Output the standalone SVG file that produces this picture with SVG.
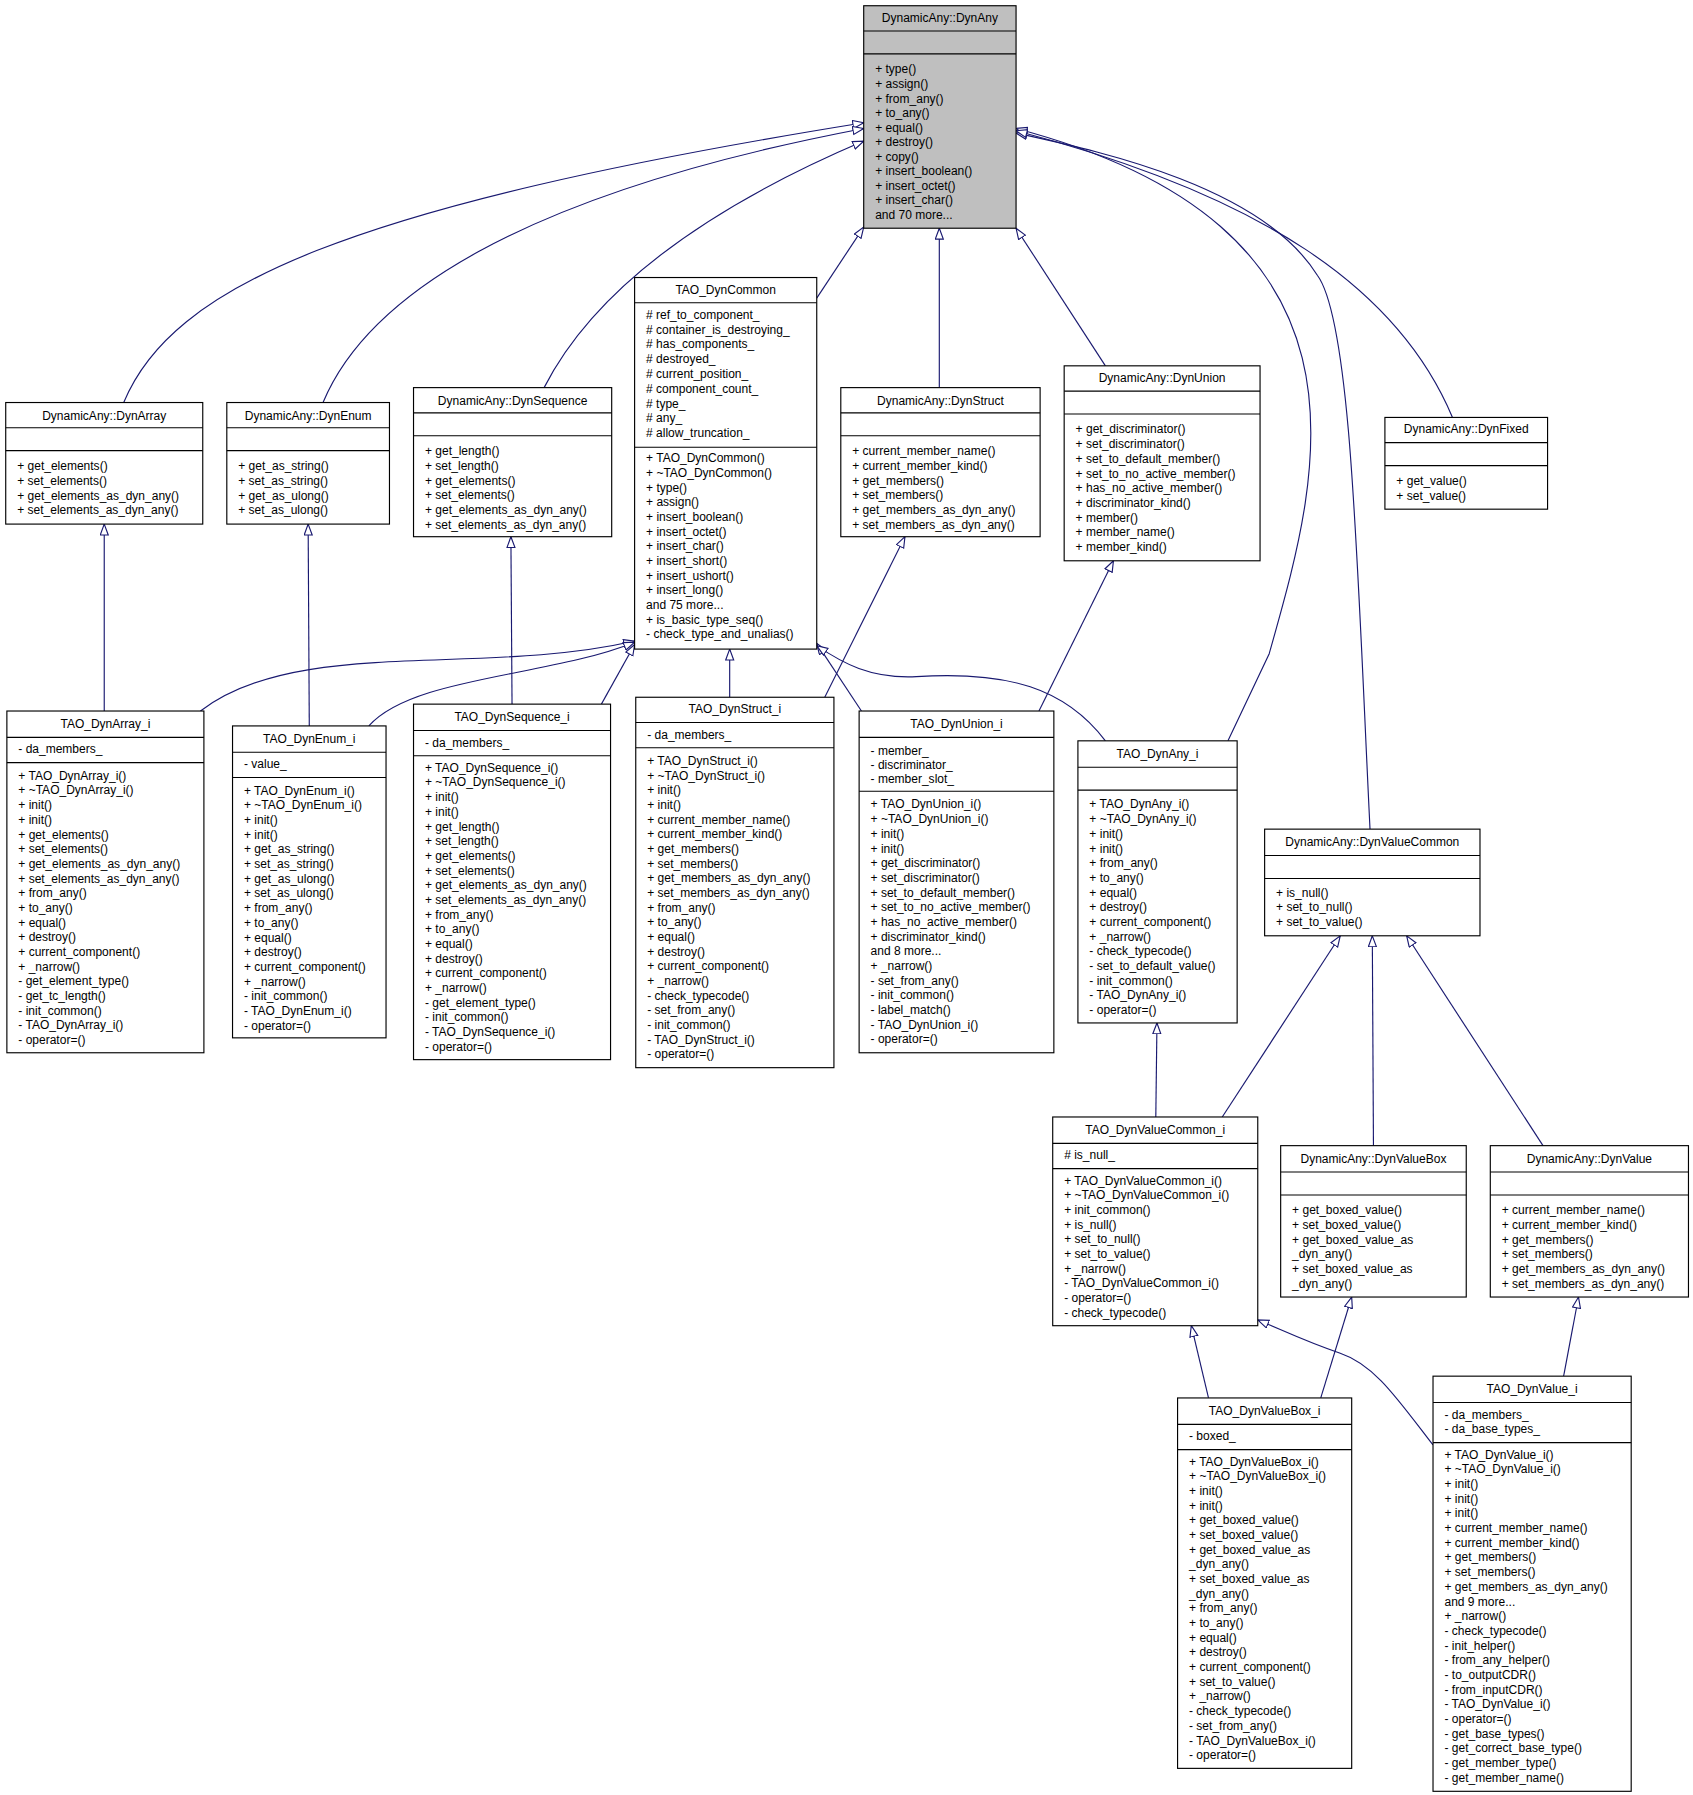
<svg xmlns="http://www.w3.org/2000/svg" width="1693" height="1795" viewBox="0 0 1693 1795">
<style>
.b{fill:#fff;stroke:#000;stroke-width:1}
.g{fill:#bfbfbf;stroke:#000;stroke-width:1}
.s{stroke:#000;stroke-width:1}
text{font-family:"Liberation Sans",Arial,sans-serif;font-size:10.5px;fill:#000}
.t{text-anchor:middle}
.e{fill:none;stroke:#191970;stroke-width:1;marker-end:url(#a)}
</style>
<defs><marker id="a" markerUnits="userSpaceOnUse" markerWidth="12" markerHeight="10" refX="10" refY="4" orient="auto"><path d="M0.5,0.5 L10,4 L0.5,7.5 z" fill="#fff" stroke="#191970"/></marker></defs>
<rect width="1693" height="1795" fill="#fff"/>
<g transform="scale(1.1455,1.1468)">
<g id="edges">
<path class="e" d="M108,351 C150,250 300,180 754,107"/>
<path class="e" d="M282,351 C320,260 450,170 754,112"/>
<path class="e" d="M475,338 C520,250 620,180 754,123"/>
<path class="e" d="M713,260 L754,198"/>
<path class="e" d="M820,338 L820,199"/>
<path class="e" d="M965,319 L887,199"/>
<path class="e" d="M1072,646 L1108,570 C1150,420 1220,200 887,112"/>
<path class="e" d="M1196,723 C1185,500 1180,280 1150,240 C1100,160 950,130 887,116"/>
<path class="e" d="M1268,364 C1220,250 1100,170 887,114"/>
<path class="e" d="M175,620 C260,555 420,590 554,559"/>
<path class="e" d="M322,633 C360,590 480,590 554,560"/>
<path class="e" d="M525,614 L554,562"/>
<path class="e" d="M637,608 L637,566"/>
<path class="e" d="M752,620 L713,561"/>
<path class="e" d="M965,646 C930,600 880,585 800,590 C760,592 735,578 713,563"/>
<path class="e" d="M91,620 L91,457"/>
<path class="e" d="M270,633 L269,457"/>
<path class="e" d="M447,614 L446,468"/>
<path class="e" d="M720,608 L790,468"/>
<path class="e" d="M907,620 L972,489"/>
<path class="e" d="M1009,974 L1010,892"/>
<path class="e" d="M1067,974 L1170,816"/>
<path class="e" d="M1199,999 L1198,816"/>
<path class="e" d="M1347,999 L1228,816"/>
<path class="e" d="M1055,1219 L1040,1156"/>
<path class="e" d="M1153,1219 L1180,1131"/>
<path class="e" d="M1251,1260 C1220,1220 1200,1190 1170,1180 C1140,1170 1120,1160 1098,1151"/>
<path class="e" d="M1365,1200 L1378,1131"/>
</g>

<g id="DynAny"><rect class="g" x="754" y="5" width="133" height="194"/><line class="s" x1="754" y1="27" x2="887" y2="27"/><line class="s" x1="754" y1="47" x2="887" y2="47"/>
<text class="t" x="820.5" y="19">DynamicAny::DynAny</text>
<text x="764" y="64"><tspan x="764">+ type()</tspan><tspan x="764" dy="12.7">+ assign()</tspan><tspan x="764" dy="12.7">+ from_any()</tspan><tspan x="764" dy="12.7">+ to_any()</tspan><tspan x="764" dy="12.7">+ equal()</tspan><tspan x="764" dy="12.7">+ destroy()</tspan><tspan x="764" dy="12.7">+ copy()</tspan><tspan x="764" dy="12.7">+ insert_boolean()</tspan><tspan x="764" dy="12.7">+ insert_octet()</tspan><tspan x="764" dy="12.7">+ insert_char()</tspan><tspan x="764" dy="12.7">and 70 more...</tspan></text></g>

<g id="TAO_DynCommon"><rect class="b" x="554" y="242" width="159" height="324"/><line class="s" x1="554" y1="264" x2="713" y2="264"/><line class="s" x1="554" y1="390" x2="713" y2="390"/>
<text class="t" x="633.5" y="256">TAO_DynCommon</text>
<text x="564" y="278"><tspan x="564"># ref_to_component_</tspan><tspan x="564" dy="12.9"># container_is_destroying_</tspan><tspan x="564" dy="12.9"># has_components_</tspan><tspan x="564" dy="12.9"># destroyed_</tspan><tspan x="564" dy="12.9"># current_position_</tspan><tspan x="564" dy="12.9"># component_count_</tspan><tspan x="564" dy="12.9"># type_</tspan><tspan x="564" dy="12.9"># any_</tspan><tspan x="564" dy="12.9"># allow_truncation_</tspan></text>
<text x="564" y="403"><tspan x="564">+ TAO_DynCommon()</tspan><tspan x="564" dy="12.8">+ ~TAO_DynCommon()</tspan><tspan x="564" dy="12.8">+ type()</tspan><tspan x="564" dy="12.8">+ assign()</tspan><tspan x="564" dy="12.8">+ insert_boolean()</tspan><tspan x="564" dy="12.8">+ insert_octet()</tspan><tspan x="564" dy="12.8">+ insert_char()</tspan><tspan x="564" dy="12.8">+ insert_short()</tspan><tspan x="564" dy="12.8">+ insert_ushort()</tspan><tspan x="564" dy="12.8">+ insert_long()</tspan><tspan x="564" dy="12.8">and 75 more...</tspan><tspan x="564" dy="12.8">+ is_basic_type_seq()</tspan><tspan x="564" dy="12.8">- check_type_and_unalias()</tspan></text></g>

<g id="DynArray"><rect class="b" x="5" y="351" width="172" height="106"/><line class="s" x1="5" y1="373" x2="177" y2="373"/><line class="s" x1="5" y1="393" x2="177" y2="393"/>
<text class="t" x="91" y="366">DynamicAny::DynArray</text>
<text x="15" y="410"><tspan x="15">+ get_elements()</tspan><tspan x="15" dy="12.8">+ set_elements()</tspan><tspan x="15" dy="12.8">+ get_elements_as_dyn_any()</tspan><tspan x="15" dy="12.8">+ set_elements_as_dyn_any()</tspan></text></g>

<g id="DynEnum"><rect class="b" x="198" y="351" width="142" height="106"/><line class="s" x1="198" y1="373" x2="340" y2="373"/><line class="s" x1="198" y1="393" x2="340" y2="393"/>
<text class="t" x="269" y="366">DynamicAny::DynEnum</text>
<text x="208" y="410"><tspan x="208">+ get_as_string()</tspan><tspan x="208" dy="12.8">+ set_as_string()</tspan><tspan x="208" dy="12.8">+ get_as_ulong()</tspan><tspan x="208" dy="12.8">+ set_as_ulong()</tspan></text></g>

<g id="DynSequence"><rect class="b" x="361" y="338" width="173" height="130"/><line class="s" x1="361" y1="360" x2="534" y2="360"/><line class="s" x1="361" y1="380" x2="534" y2="380"/>
<text class="t" x="447.5" y="353">DynamicAny::DynSequence</text>
<text x="371" y="397"><tspan x="371">+ get_length()</tspan><tspan x="371" dy="12.8">+ set_length()</tspan><tspan x="371" dy="12.8">+ get_elements()</tspan><tspan x="371" dy="12.8">+ set_elements()</tspan><tspan x="371" dy="12.8">+ get_elements_as_dyn_any()</tspan><tspan x="371" dy="12.8">+ set_elements_as_dyn_any()</tspan></text></g>

<g id="DynStruct"><rect class="b" x="734" y="338" width="174" height="130"/><line class="s" x1="734" y1="360" x2="908" y2="360"/><line class="s" x1="734" y1="380" x2="908" y2="380"/>
<text class="t" x="821" y="353">DynamicAny::DynStruct</text>
<text x="744" y="397"><tspan x="744">+ current_member_name()</tspan><tspan x="744" dy="12.8">+ current_member_kind()</tspan><tspan x="744" dy="12.8">+ get_members()</tspan><tspan x="744" dy="12.8">+ set_members()</tspan><tspan x="744" dy="12.8">+ get_members_as_dyn_any()</tspan><tspan x="744" dy="12.8">+ set_members_as_dyn_any()</tspan></text></g>

<g id="DynUnion"><rect class="b" x="929" y="319" width="171" height="170"/><line class="s" x1="929" y1="341" x2="1100" y2="341"/><line class="s" x1="929" y1="361" x2="1100" y2="361"/>
<text class="t" x="1014.5" y="333">DynamicAny::DynUnion</text>
<text x="939" y="378"><tspan x="939">+ get_discriminator()</tspan><tspan x="939" dy="12.8">+ set_discriminator()</tspan><tspan x="939" dy="12.8">+ set_to_default_member()</tspan><tspan x="939" dy="12.8">+ set_to_no_active_member()</tspan><tspan x="939" dy="12.8">+ has_no_active_member()</tspan><tspan x="939" dy="12.8">+ discriminator_kind()</tspan><tspan x="939" dy="12.8">+ member()</tspan><tspan x="939" dy="12.8">+ member_name()</tspan><tspan x="939" dy="12.8">+ member_kind()</tspan></text></g>

<g id="DynFixed"><rect class="b" x="1209" y="364" width="142" height="80"/><line class="s" x1="1209" y1="386" x2="1351" y2="386"/><line class="s" x1="1209" y1="406" x2="1351" y2="406"/>
<text class="t" x="1280" y="378">DynamicAny::DynFixed</text>
<text x="1219" y="423"><tspan x="1219">+ get_value()</tspan><tspan x="1219" dy="12.8">+ set_value()</tspan></text></g>

<g id="TAO_DynArray_i"><rect class="b" x="6" y="620" width="172" height="298"/><line class="s" x1="6" y1="643" x2="178" y2="643"/><line class="s" x1="6" y1="665" x2="178" y2="665"/>
<text class="t" x="92" y="635">TAO_DynArray_i</text>
<text x="16" y="657">- da_members_</text>
<text x="16" y="680"><tspan x="16">+ TAO_DynArray_i()</tspan><tspan x="16" dy="12.8">+ ~TAO_DynArray_i()</tspan><tspan x="16" dy="12.8">+ init()</tspan><tspan x="16" dy="12.8">+ init()</tspan><tspan x="16" dy="12.8">+ get_elements()</tspan><tspan x="16" dy="12.8">+ set_elements()</tspan><tspan x="16" dy="12.8">+ get_elements_as_dyn_any()</tspan><tspan x="16" dy="12.8">+ set_elements_as_dyn_any()</tspan><tspan x="16" dy="12.8">+ from_any()</tspan><tspan x="16" dy="12.8">+ to_any()</tspan><tspan x="16" dy="12.8">+ equal()</tspan><tspan x="16" dy="12.8">+ destroy()</tspan><tspan x="16" dy="12.8">+ current_component()</tspan><tspan x="16" dy="12.8">+ _narrow()</tspan><tspan x="16" dy="12.8">- get_element_type()</tspan><tspan x="16" dy="12.8">- get_tc_length()</tspan><tspan x="16" dy="12.8">- init_common()</tspan><tspan x="16" dy="12.8">- TAO_DynArray_i()</tspan><tspan x="16" dy="12.8">- operator=()</tspan></text></g>

<g id="TAO_DynEnum_i"><rect class="b" x="203" y="633" width="134" height="272"/><line class="s" x1="203" y1="656" x2="337" y2="656"/><line class="s" x1="203" y1="678" x2="337" y2="678"/>
<text class="t" x="270" y="648">TAO_DynEnum_i</text>
<text x="213" y="670">- value_</text>
<text x="213" y="693"><tspan x="213">+ TAO_DynEnum_i()</tspan><tspan x="213" dy="12.8">+ ~TAO_DynEnum_i()</tspan><tspan x="213" dy="12.8">+ init()</tspan><tspan x="213" dy="12.8">+ init()</tspan><tspan x="213" dy="12.8">+ get_as_string()</tspan><tspan x="213" dy="12.8">+ set_as_string()</tspan><tspan x="213" dy="12.8">+ get_as_ulong()</tspan><tspan x="213" dy="12.8">+ set_as_ulong()</tspan><tspan x="213" dy="12.8">+ from_any()</tspan><tspan x="213" dy="12.8">+ to_any()</tspan><tspan x="213" dy="12.8">+ equal()</tspan><tspan x="213" dy="12.8">+ destroy()</tspan><tspan x="213" dy="12.8">+ current_component()</tspan><tspan x="213" dy="12.8">+ _narrow()</tspan><tspan x="213" dy="12.8">- init_common()</tspan><tspan x="213" dy="12.8">- TAO_DynEnum_i()</tspan><tspan x="213" dy="12.8">- operator=()</tspan></text></g>

<g id="TAO_DynSequence_i"><rect class="b" x="361" y="614" width="172" height="310"/><line class="s" x1="361" y1="637" x2="533" y2="637"/><line class="s" x1="361" y1="659" x2="533" y2="659"/>
<text class="t" x="447" y="629">TAO_DynSequence_i</text>
<text x="371" y="651">- da_members_</text>
<text x="371" y="673"><tspan x="371">+ TAO_DynSequence_i()</tspan><tspan x="371" dy="12.8">+ ~TAO_DynSequence_i()</tspan><tspan x="371" dy="12.8">+ init()</tspan><tspan x="371" dy="12.8">+ init()</tspan><tspan x="371" dy="12.8">+ get_length()</tspan><tspan x="371" dy="12.8">+ set_length()</tspan><tspan x="371" dy="12.8">+ get_elements()</tspan><tspan x="371" dy="12.8">+ set_elements()</tspan><tspan x="371" dy="12.8">+ get_elements_as_dyn_any()</tspan><tspan x="371" dy="12.8">+ set_elements_as_dyn_any()</tspan><tspan x="371" dy="12.8">+ from_any()</tspan><tspan x="371" dy="12.8">+ to_any()</tspan><tspan x="371" dy="12.8">+ equal()</tspan><tspan x="371" dy="12.8">+ destroy()</tspan><tspan x="371" dy="12.8">+ current_component()</tspan><tspan x="371" dy="12.8">+ _narrow()</tspan><tspan x="371" dy="12.8">- get_element_type()</tspan><tspan x="371" dy="12.8">- init_common()</tspan><tspan x="371" dy="12.8">- TAO_DynSequence_i()</tspan><tspan x="371" dy="12.8">- operator=()</tspan></text></g>

<g id="TAO_DynStruct_i"><rect class="b" x="555" y="608" width="173" height="323"/><line class="s" x1="555" y1="630" x2="728" y2="630"/><line class="s" x1="555" y1="652" x2="728" y2="652"/>
<text class="t" x="641.5" y="622">TAO_DynStruct_i</text>
<text x="565" y="644">- da_members_</text>
<text x="565" y="667"><tspan x="565">+ TAO_DynStruct_i()</tspan><tspan x="565" dy="12.8">+ ~TAO_DynStruct_i()</tspan><tspan x="565" dy="12.8">+ init()</tspan><tspan x="565" dy="12.8">+ init()</tspan><tspan x="565" dy="12.8">+ current_member_name()</tspan><tspan x="565" dy="12.8">+ current_member_kind()</tspan><tspan x="565" dy="12.8">+ get_members()</tspan><tspan x="565" dy="12.8">+ set_members()</tspan><tspan x="565" dy="12.8">+ get_members_as_dyn_any()</tspan><tspan x="565" dy="12.8">+ set_members_as_dyn_any()</tspan><tspan x="565" dy="12.8">+ from_any()</tspan><tspan x="565" dy="12.8">+ to_any()</tspan><tspan x="565" dy="12.8">+ equal()</tspan><tspan x="565" dy="12.8">+ destroy()</tspan><tspan x="565" dy="12.8">+ current_component()</tspan><tspan x="565" dy="12.8">+ _narrow()</tspan><tspan x="565" dy="12.8">- check_typecode()</tspan><tspan x="565" dy="12.8">- set_from_any()</tspan><tspan x="565" dy="12.8">- init_common()</tspan><tspan x="565" dy="12.8">- TAO_DynStruct_i()</tspan><tspan x="565" dy="12.8">- operator=()</tspan></text></g>

<g id="TAO_DynUnion_i"><rect class="b" x="750" y="620" width="170" height="298"/><line class="s" x1="750" y1="643" x2="920" y2="643"/><line class="s" x1="750" y1="690" x2="920" y2="690"/>
<text class="t" x="835" y="635">TAO_DynUnion_i</text>
<text x="760" y="658"><tspan x="760">- member_</tspan><tspan x="760" dy="12.6">- discriminator_</tspan><tspan x="760" dy="12.6">- member_slot_</tspan></text>
<text x="760" y="705"><tspan x="760">+ TAO_DynUnion_i()</tspan><tspan x="760" dy="12.8">+ ~TAO_DynUnion_i()</tspan><tspan x="760" dy="12.8">+ init()</tspan><tspan x="760" dy="12.8">+ init()</tspan><tspan x="760" dy="12.8">+ get_discriminator()</tspan><tspan x="760" dy="12.8">+ set_discriminator()</tspan><tspan x="760" dy="12.8">+ set_to_default_member()</tspan><tspan x="760" dy="12.8">+ set_to_no_active_member()</tspan><tspan x="760" dy="12.8">+ has_no_active_member()</tspan><tspan x="760" dy="12.8">+ discriminator_kind()</tspan><tspan x="760" dy="12.8">and 8 more...</tspan><tspan x="760" dy="12.8">+ _narrow()</tspan><tspan x="760" dy="12.8">- set_from_any()</tspan><tspan x="760" dy="12.8">- init_common()</tspan><tspan x="760" dy="12.8">- label_match()</tspan><tspan x="760" dy="12.8">- TAO_DynUnion_i()</tspan><tspan x="760" dy="12.8">- operator=()</tspan></text></g>

<g id="TAO_DynAny_i"><rect class="b" x="941" y="646" width="139" height="246"/><line class="s" x1="941" y1="669" x2="1080" y2="669"/><line class="s" x1="941" y1="689" x2="1080" y2="689"/>
<text class="t" x="1010.5" y="661">TAO_DynAny_i</text>
<text x="951" y="705"><tspan x="951">+ TAO_DynAny_i()</tspan><tspan x="951" dy="12.8">+ ~TAO_DynAny_i()</tspan><tspan x="951" dy="12.8">+ init()</tspan><tspan x="951" dy="12.8">+ init()</tspan><tspan x="951" dy="12.8">+ from_any()</tspan><tspan x="951" dy="12.8">+ to_any()</tspan><tspan x="951" dy="12.8">+ equal()</tspan><tspan x="951" dy="12.8">+ destroy()</tspan><tspan x="951" dy="12.8">+ current_component()</tspan><tspan x="951" dy="12.8">+ _narrow()</tspan><tspan x="951" dy="12.8">- check_typecode()</tspan><tspan x="951" dy="12.8">- set_to_default_value()</tspan><tspan x="951" dy="12.8">- init_common()</tspan><tspan x="951" dy="12.8">- TAO_DynAny_i()</tspan><tspan x="951" dy="12.8">- operator=()</tspan></text></g>

<g id="DynValueCommon"><rect class="b" x="1104" y="723" width="188" height="93"/><line class="s" x1="1104" y1="746" x2="1292" y2="746"/><line class="s" x1="1104" y1="766" x2="1292" y2="766"/>
<text class="t" x="1198" y="738">DynamicAny::DynValueCommon</text>
<text x="1114" y="782"><tspan x="1114">+ is_null()</tspan><tspan x="1114" dy="12.8">+ set_to_null()</tspan><tspan x="1114" dy="12.8">+ set_to_value()</tspan></text></g>

<g id="TAO_DynValueCommon_i"><rect class="b" x="919" y="974" width="179" height="182"/><line class="s" x1="919" y1="997" x2="1098" y2="997"/><line class="s" x1="919" y1="1019" x2="1098" y2="1019"/>
<text class="t" x="1008.5" y="989">TAO_DynValueCommon_i</text>
<text x="929" y="1011"># is_null_</text>
<text x="929" y="1033"><tspan x="929">+ TAO_DynValueCommon_i()</tspan><tspan x="929" dy="12.8">+ ~TAO_DynValueCommon_i()</tspan><tspan x="929" dy="12.8">+ init_common()</tspan><tspan x="929" dy="12.8">+ is_null()</tspan><tspan x="929" dy="12.8">+ set_to_null()</tspan><tspan x="929" dy="12.8">+ set_to_value()</tspan><tspan x="929" dy="12.8">+ _narrow()</tspan><tspan x="929" dy="12.8">- TAO_DynValueCommon_i()</tspan><tspan x="929" dy="12.8">- operator=()</tspan><tspan x="929" dy="12.8">- check_typecode()</tspan></text></g>

<g id="DynValueBox"><rect class="b" x="1118" y="999" width="162" height="132"/><line class="s" x1="1118" y1="1022" x2="1280" y2="1022"/><line class="s" x1="1118" y1="1042" x2="1280" y2="1042"/>
<text class="t" x="1199" y="1014">DynamicAny::DynValueBox</text>
<text x="1128" y="1059"><tspan x="1128">+ get_boxed_value()</tspan><tspan x="1128" dy="12.8">+ set_boxed_value()</tspan><tspan x="1128" dy="12.8">+ get_boxed_value_as</tspan><tspan x="1128" dy="12.8">_dyn_any()</tspan><tspan x="1128" dy="12.8">+ set_boxed_value_as</tspan><tspan x="1128" dy="12.8">_dyn_any()</tspan></text></g>

<g id="DynValue"><rect class="b" x="1301" y="999" width="173" height="132"/><line class="s" x1="1301" y1="1022" x2="1474" y2="1022"/><line class="s" x1="1301" y1="1042" x2="1474" y2="1042"/>
<text class="t" x="1387.5" y="1014">DynamicAny::DynValue</text>
<text x="1311" y="1059"><tspan x="1311">+ current_member_name()</tspan><tspan x="1311" dy="12.8">+ current_member_kind()</tspan><tspan x="1311" dy="12.8">+ get_members()</tspan><tspan x="1311" dy="12.8">+ set_members()</tspan><tspan x="1311" dy="12.8">+ get_members_as_dyn_any()</tspan><tspan x="1311" dy="12.8">+ set_members_as_dyn_any()</tspan></text></g>

<g id="TAO_DynValueBox_i"><rect class="b" x="1028" y="1219" width="152" height="323"/><line class="s" x1="1028" y1="1242" x2="1180" y2="1242"/><line class="s" x1="1028" y1="1264" x2="1180" y2="1264"/>
<text class="t" x="1104" y="1234">TAO_DynValueBox_i</text>
<text x="1038" y="1256">- boxed_</text>
<text x="1038" y="1278"><tspan x="1038">+ TAO_DynValueBox_i()</tspan><tspan x="1038" dy="12.8">+ ~TAO_DynValueBox_i()</tspan><tspan x="1038" dy="12.8">+ init()</tspan><tspan x="1038" dy="12.8">+ init()</tspan><tspan x="1038" dy="12.8">+ get_boxed_value()</tspan><tspan x="1038" dy="12.8">+ set_boxed_value()</tspan><tspan x="1038" dy="12.8">+ get_boxed_value_as</tspan><tspan x="1038" dy="12.8">_dyn_any()</tspan><tspan x="1038" dy="12.8">+ set_boxed_value_as</tspan><tspan x="1038" dy="12.8">_dyn_any()</tspan><tspan x="1038" dy="12.8">+ from_any()</tspan><tspan x="1038" dy="12.8">+ to_any()</tspan><tspan x="1038" dy="12.8">+ equal()</tspan><tspan x="1038" dy="12.8">+ destroy()</tspan><tspan x="1038" dy="12.8">+ current_component()</tspan><tspan x="1038" dy="12.8">+ set_to_value()</tspan><tspan x="1038" dy="12.8">+ _narrow()</tspan><tspan x="1038" dy="12.8">- check_typecode()</tspan><tspan x="1038" dy="12.8">- set_from_any()</tspan><tspan x="1038" dy="12.8">- TAO_DynValueBox_i()</tspan><tspan x="1038" dy="12.8">- operator=()</tspan></text></g>

<g id="TAO_DynValue_i"><rect class="b" x="1251" y="1200" width="173" height="362"/><line class="s" x1="1251" y1="1223" x2="1424" y2="1223"/><line class="s" x1="1251" y1="1258" x2="1424" y2="1258"/>
<text class="t" x="1337.5" y="1215">TAO_DynValue_i</text>
<text x="1261" y="1237"><tspan x="1261">- da_members_</tspan><tspan x="1261" dy="12.8">- da_base_types_</tspan></text>
<text x="1261" y="1272"><tspan x="1261">+ TAO_DynValue_i()</tspan><tspan x="1261" dy="12.8">+ ~TAO_DynValue_i()</tspan><tspan x="1261" dy="12.8">+ init()</tspan><tspan x="1261" dy="12.8">+ init()</tspan><tspan x="1261" dy="12.8">+ init()</tspan><tspan x="1261" dy="12.8">+ current_member_name()</tspan><tspan x="1261" dy="12.8">+ current_member_kind()</tspan><tspan x="1261" dy="12.8">+ get_members()</tspan><tspan x="1261" dy="12.8">+ set_members()</tspan><tspan x="1261" dy="12.8">+ get_members_as_dyn_any()</tspan><tspan x="1261" dy="12.8">and 9 more...</tspan><tspan x="1261" dy="12.8">+ _narrow()</tspan><tspan x="1261" dy="12.8">- check_typecode()</tspan><tspan x="1261" dy="12.8">- init_helper()</tspan><tspan x="1261" dy="12.8">- from_any_helper()</tspan><tspan x="1261" dy="12.8">- to_outputCDR()</tspan><tspan x="1261" dy="12.8">- from_inputCDR()</tspan><tspan x="1261" dy="12.8">- TAO_DynValue_i()</tspan><tspan x="1261" dy="12.8">- operator=()</tspan><tspan x="1261" dy="12.8">- get_base_types()</tspan><tspan x="1261" dy="12.8">- get_correct_base_type()</tspan><tspan x="1261" dy="12.8">- get_member_type()</tspan><tspan x="1261" dy="12.8">- get_member_name()</tspan></text></g>
</g>
</svg>
